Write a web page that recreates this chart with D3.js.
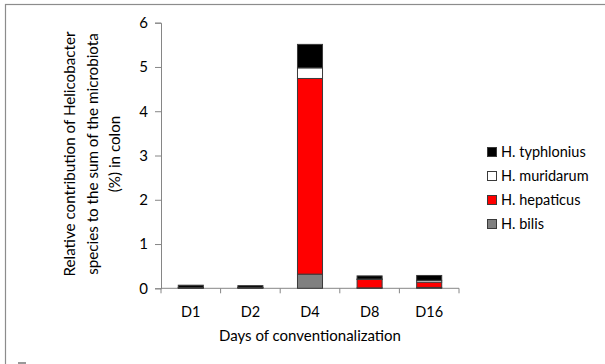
<!DOCTYPE html>
<html><head><meta charset="utf-8">
<script src="https://cdn.jsdelivr.net/npm/d3@7"></script>
<style>body{margin:0;background:#fff}svg{display:block}text{font-family:Lato,"Open Sans",sans-serif;fill:#000}</style>
</head><body>
<svg id="c" width="605" height="364"></svg>
<script>
const categories = ["D1","D2","D4","D8","D16"];
const seriesNames = ["H. bilis","H. hepaticus","H. muridarum","H. typhlonius"];
const bilis      = [0.01, 0.01, 0.32, 0.01, 0.02];
const hepaticus  = [0.01, 0.01, 4.42, 0.19, 0.12];
const muridarum  = [0.00, 0.00, 0.24, 0.01, 0.04];
const typhlonius = [0.05, 0.04, 0.53, 0.07, 0.11];
const yTicks = [0,1,2,3,4,5,6];
const colors = ["#808080","#ff0000","#ffffff","#000000"];

const svg = d3.select("#c");
svg.append("rect").attr("x",5.5).attr("y",4.5).attr("width",700).attr("height",400)
  .attr("fill","none").attr("stroke","#8c8c8c").attr("stroke-width",1.2);
svg.append("rect").attr("x",18).attr("y",362).attr("width",8).attr("height",2).attr("fill","#999");

const x = d3.scaleBand().domain(categories).range([161,459]).paddingInner(0.58).paddingOuter(0.29);
const y = d3.scaleLinear().domain([0,6]).range([288.3,22.7]);

const rows = categories.map((c,i)=>({cat:c,"H. bilis":bilis[i],"H. hepaticus":hepaticus[i],"H. muridarum":muridarum[i],"H. typhlonius":typhlonius[i]}));
const stack = d3.stack().keys(seriesNames)(rows);

// axes
const ya = svg.append("g").attr("transform","translate(161,0)")
  .call(d3.axisLeft(y).tickValues(yTicks).tickFormat(d3.format("d")).tickSize(6).tickPadding(7));
ya.select(".domain").attr("stroke","#868686");
ya.selectAll(".tick line").attr("stroke","#868686");
ya.selectAll("text").attr("font-size",15).attr("font-family","Lato");

const xb = d3.scaleLinear().domain([0,5]).range([161,459]);
const xa = svg.append("g").attr("transform","translate(0,288.3)");
xa.append("line").attr("x1",161).attr("x2",459).attr("stroke","#868686");
xa.selectAll("line.t").data(d3.range(6)).join("line").attr("class","t")
  .attr("x1",d=>xb(d)).attr("x2",d=>xb(d)).attr("y1",0).attr("y2",5).attr("stroke","#868686");
xa.selectAll("text").data(categories).join("text")
  .attr("x",d=>x(d)+x.bandwidth()/2).attr("y",29).attr("text-anchor","middle").attr("font-size",14.5).text(d=>d);

// bars
stack.forEach((s,si)=>{
  svg.append("g").selectAll("rect").data(s).join("rect")
    .attr("x",d=>x(d.data.cat)).attr("width",x.bandwidth())
    .attr("y",d=>y(d[1])).attr("height",d=>Math.max(0,y(d[0])-y(d[1])))
    .attr("fill",colors[si]).attr("stroke","#3a3a3a").attr("stroke-width",1);
});

// titles
svg.append("text").attr("x",310).attr("y",341).attr("text-anchor","middle").attr("font-size",15).text("Days of conventionalization");
const yt = svg.append("text").attr("transform","translate(0,154) rotate(-90)").attr("text-anchor","middle").attr("font-size",15.2);
["Relative contribution of Helicobacter","species to the sum of the microbiota","(%) in colon"].forEach((t,i)=>{
  yt.append("tspan").attr("x",0).attr("y",75+i*22.5).text(t);
});

// legend
const leg = svg.append("g");
const order = [3,2,1,0];
order.forEach((si,i)=>{
  const yy = 152 + i*24;
  leg.append("rect").attr("x",487.5).attr("y",yy-4.5).attr("width",9).attr("height",9)
    .attr("fill",colors[si]).attr("stroke","#3a3a3a").attr("stroke-width",1);
  leg.append("text").attr("x",501).attr("y",yy+5).attr("font-size",14.5).text(seriesNames[si]);
});
</script>
</body></html>
